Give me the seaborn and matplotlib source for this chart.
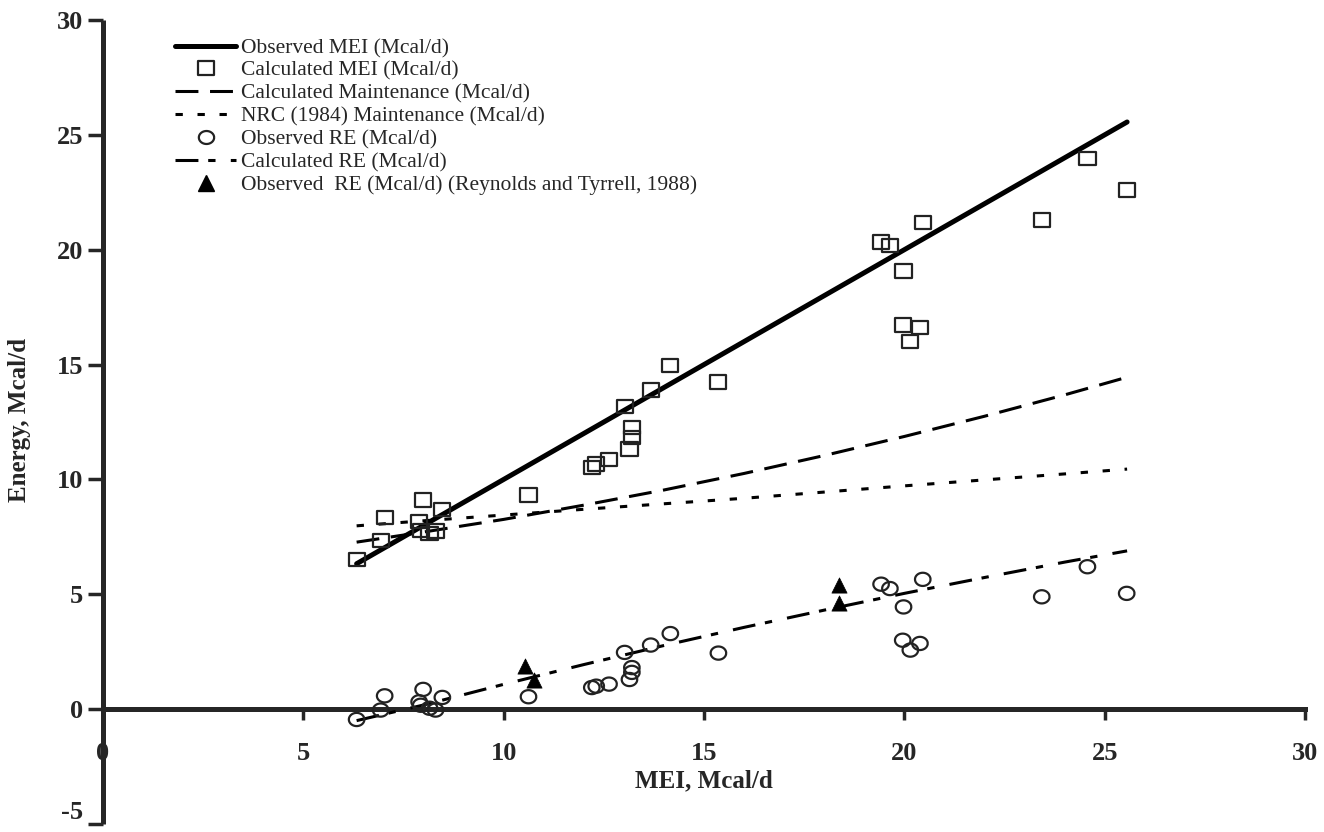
import numpy as np
import matplotlib
matplotlib.use("Agg")
import matplotlib.pyplot as plt
import seaborn as sns
from matplotlib.lines import Line2D
from matplotlib.path import Path
from matplotlib.font_manager import FontProperties

# ---------------- data ----------------
mei = [6.33, 6.93, 7.03, 7.99, 8.47, 7.89, 7.93, 8.15, 8.30, 10.62,
       12.20, 12.31, 12.63, 13.02, 13.20, 13.20, 13.14, 13.67, 14.16, 15.36,
       19.42, 19.64, 19.98, 20.46, 19.96, 20.39, 20.15, 23.43, 24.57, 25.55]
calc_mei = [6.53, 7.33, 8.33, 9.10, 8.69, 8.18, 7.79, 7.66, 7.75, 9.32,
            10.52, 10.67, 10.87, 13.19, 12.25, 11.83, 11.32, 13.89, 14.95, 14.24,
            20.34, 20.20, 19.07, 21.17, 16.72, 16.62, 16.02, 21.29, 23.97, 22.60]
obs_re = [-0.45, -0.04, 0.58, 0.86, 0.51, 0.32, 0.17, 0.04, -0.04, 0.54,
          0.94, 1.00, 1.09, 2.47, 1.81, 1.60, 1.29, 2.79, 3.29, 2.44,
          5.44, 5.25, 4.45, 5.65, 3.00, 2.86, 2.57, 4.89, 6.20, 5.04]

rt_mei = [10.54, 10.76, 18.38, 18.38]
rt_re = [1.87, 1.26, 5.40, 4.61]

obs_line_x = [6.33, 25.56]
obs_line_y = [6.33, 25.56]

curve_mei = [6.33, 8, 10, 12, 14, 16, 18, 20, 22, 24, 25.56]
calc_maint = [7.27, 7.71, 8.26, 8.88, 9.54, 10.26, 11.04, 11.87, 12.75, 13.68, 14.45]
nrc_maint = [7.98, 8.20, 8.45, 8.70, 8.94, 9.18, 9.45, 9.72, 9.98, 10.24, 10.45]
calc_re = [-0.50, 0.18, 1.08, 1.94, 2.77, 3.56, 4.31, 5.04, 5.73, 6.40, 6.89]

xticks = [0, 5, 10, 15, 20, 25, 30]
yticks = [-5, 0, 5, 10, 15, 20, 25, 30]

labels = ["Observed MEI (Mcal/d)", "Calculated MEI (Mcal/d)",
          "Calculated Maintenance (Mcal/d)", "NRC (1984) Maintenance (Mcal/d)",
          "Observed RE (Mcal/d)", "Calculated RE (Mcal/d)",
          "Observed  RE (Mcal/d) (Reynolds and Tyrrell, 1988)"]

# ---------------- style ----------------
sns.set_style("ticks")
plt.rcParams["font.family"] = ["Liberation Serif", "DejaVu Serif"]

fig = plt.figure(figsize=(13.24, 8.32), dpi=100)
ax = fig.add_axes([103 / 1324, 8 / 832, (1305 - 103) / 1324, (824 - 20) / 832])

# marker shapes (slightly wide, as in the reference)
rect = Path([(-1, -0.82), (1, -0.82), (1, 0.82), (-1, 0.82), (-1, -0.82)],
            [Path.MOVETO, Path.LINETO, Path.LINETO, Path.LINETO, Path.CLOSEPOLY])
t = np.linspace(0, 2 * np.pi, 64)
ell = Path(np.column_stack([np.cos(t), 0.85 * np.sin(t)]))

LW_MAIN = 3.6
LW = 2.2
ls_maint = (0, (7.5, 3.8))
ls_nrc = (0, (2.4, 4.8))
ls_re = (0, (7.5, 3.2, 2.4, 5.0))

sns.lineplot(x=obs_line_x, y=obs_line_y, ax=ax, color="black", lw=LW_MAIN,
             sort=False, estimator=None, zorder=3)
sns.lineplot(x=curve_mei, y=calc_maint, ax=ax, color="black", lw=LW,
             linestyle=ls_maint, sort=False, estimator=None, zorder=3)
sns.lineplot(x=curve_mei, y=nrc_maint, ax=ax, color="black", lw=LW,
             linestyle=ls_nrc, sort=False, estimator=None, zorder=3)
sns.lineplot(x=curve_mei, y=calc_re, ax=ax, color="black", lw=LW,
             linestyle=ls_re, sort=False, estimator=None, zorder=3)

sns.scatterplot(x=mei, y=calc_mei, ax=ax, marker=rect, s=135,
                facecolor="none", edgecolor="#222222", linewidth=1.6, zorder=4)
sns.scatterplot(x=mei, y=obs_re, ax=ax, marker=ell, s=125,
                facecolor="none", edgecolor="#222222", linewidth=1.6, zorder=4)
sns.scatterplot(x=rt_mei, y=rt_re, ax=ax, marker="^", s=120,
                color="black", edgecolor="black", linewidth=0.5, zorder=5)

# ---------------- axes ----------------
ax.set_xlim(0, 30)
ax.set_ylim(-5, 30)
ax.spines["right"].set_visible(False)
ax.spines["top"].set_visible(False)
ax.spines["left"].set_position(("data", 0))
ax.spines["bottom"].set_position(("data", 0))
ax.spines["left"].set_linewidth(3.6)
ax.spines["bottom"].set_linewidth(3.6)
ax.spines["left"].set_capstyle("butt")

ax.set_xticks(xticks)
ax.set_xticklabels([str(v) for v in xticks])
ax.set_yticks(yticks)
ax.set_yticklabels([str(v) for v in yticks])
ax.tick_params(axis="x", direction="out", length=8, width=2.5, pad=16,
               labelsize=19)
ax.tick_params(axis="y", direction="out", length=11, width=2.5, pad=3,
               labelsize=19)
for lab in ax.get_xticklabels() + ax.get_yticklabels():
    lab.set_fontweight("bold")
ax.get_yticklabels()[0].set_va("bottom")
ax.set_xlabel("")
ax.set_ylabel("")

ax.text(15, -3.1, "MEI, Mcal/d", ha="center", va="center",
        fontsize=18, fontweight="bold")
fig.text(20 / 1324, 1 - 420 / 832, "Energy, Mcal/d", rotation=90,
         ha="center", va="center", fontsize=18, fontweight="bold")

# ---------------- legend ----------------
handles = [
    Line2D([], [], color="black", lw=LW_MAIN),
    Line2D([], [], ls="none", marker=rect, ms=11.5, mfc="none", mec="#222222", mew=1.6),
    Line2D([], [], color="black", lw=LW, ls=ls_maint),
    Line2D([], [], color="black", lw=LW, ls=ls_nrc),
    Line2D([], [], ls="none", marker=ell, ms=11, mfc="none", mec="#222222", mew=1.6),
    Line2D([], [], color="black", lw=LW, ls=ls_re),
    Line2D([], [], ls="none", marker="^", ms=11, color="black"),
]
ax.legend(handles, labels, loc="upper left",
          bbox_to_anchor=(175 / 1324, 1 - 38 / 832),
          bbox_transform=fig.transFigure, frameon=False,
          prop=FontProperties(family="Liberation Serif", size=15.5),
          handlelength=2.85, handletextpad=0.2, labelspacing=0.13,
          borderpad=0, borderaxespad=0)

fig.savefig("out.png", dpi=100)
